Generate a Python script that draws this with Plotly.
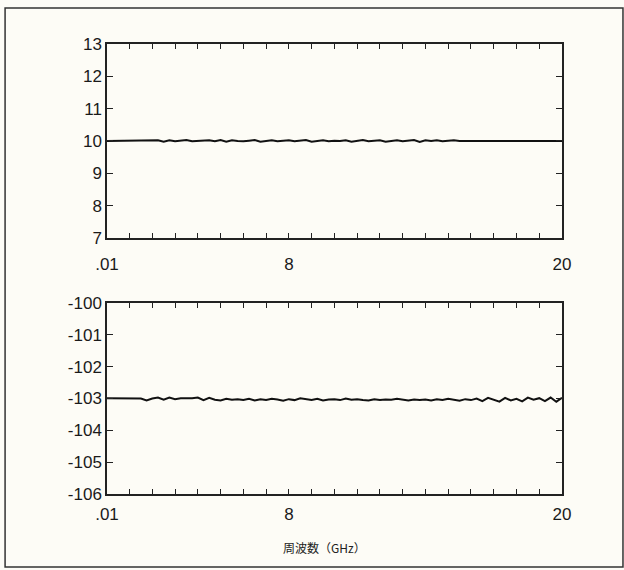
import plotly.graph_objects as go

freq_ghz = [0.01, 0.25, 0.5, 0.75, 1.0, 1.25, 1.5, 1.75, 2.0, 2.25, 2.5, 2.75, 3.0, 3.25, 3.5, 3.75,
            4.0, 4.25, 4.5, 4.75, 5.0, 5.25, 5.5, 5.75, 6.0, 6.25, 6.5, 6.75, 7.0, 7.25, 7.5, 7.75,
            8.0, 8.25, 8.5, 8.75, 9.0, 9.25, 9.5, 9.75, 10.0, 10.25, 10.5, 10.75, 11.0, 11.25, 11.5, 11.75,
            12.0, 12.25, 12.5, 12.75, 13.0, 13.25, 13.5, 13.75, 14.0, 14.25, 14.5, 14.75, 15.0, 15.25, 15.5, 15.75,
            16.0, 16.25, 16.5, 16.75, 17.0, 17.25, 17.5, 17.75, 18.0, 18.25, 18.5, 18.75, 19.0, 19.25, 19.5, 19.75, 20.0]

top_values = [10.0, 10.0, 10.0, 10.0, 10.0, 10.0, 10.0, 10.0, 10.0, 10.02, 9.98, 10.02, 9.99, 10.01, 10.03, 9.99,
              10.0, 10.0, 10.02, 9.99, 10.03, 9.98, 10.02, 10.0, 9.99, 10.01, 10.03, 9.98, 10.01, 10.02, 9.99, 10.0,
              10.02, 9.99, 10.01, 10.03, 9.98, 10.0, 10.02, 9.99, 10.01, 10.0, 10.02, 9.98, 10.01, 10.03, 9.99, 10.0,
              10.02, 9.98, 10.01, 10.02, 9.99, 10.0, 10.03, 9.97, 10.02, 10.0, 10.02, 9.99, 10.01, 10.02, 10.0, 10.0,
              10.0, 10.0, 10.0, 10.0, 10.0, 10.0, 10.0, 10.0, 10.0, 10.01, 10.0, 10.0, 10.01, 10.0, 10.0, 10.0, 10.0]

bottom_values = [-102.99, -102.99, -102.99, -102.99, -103.0, -103.0, -103.0, -103.06, -103.0, -102.97, -103.04,
                 -102.97, -103.02, -102.99, -103.0, -102.99, -102.97, -103.05, -102.98, -103.04, -103.06, -103.01,
                 -103.04, -103.02, -103.05, -103.01, -103.06, -103.02, -103.05, -103.01, -103.03, -103.07, -103.02,
                 -103.05, -102.99, -103.03, -103.05, -103.01, -103.06, -103.03, -103.02, -103.05, -103.0, -103.04,
                 -103.02, -103.05, -103.06, -103.02, -103.05, -103.03, -103.04, -103.01, -103.04, -103.06, -103.03,
                 -103.05, -103.03, -103.06, -103.02, -103.05, -103.01, -103.04, -103.07, -103.02, -103.05, -103.0,
                 -103.08, -102.98, -103.04, -103.1, -102.98, -103.06, -103.01, -103.09, -102.97, -103.04, -102.99,
                 -103.08, -102.97, -103.1, -102.98]

x_tickvals = [0.01] + list(range(1, 21))
x_ticktext = [".01" if v == 0.01 else ("8" if v == 8 else ("20" if v == 20 else "")) for v in x_tickvals]
top_y_ticks = [7, 8, 9, 10, 11, 12, 13]
bottom_y_ticks = [-106, -105, -104, -103, -102, -101, -100]
bottom_y_text = ["-106", "-105", "-104", "-103", "-102", "-101", "-100"]
x_title = "周波数（GHz）"

FONT = "Liberation Sans, Arial, sans-serif"

fig = go.Figure()
fig.add_trace(go.Scatter(x=freq_ghz, y=top_values, mode="lines",
                         line=dict(color="#111111", width=2), xaxis="x", yaxis="y", showlegend=False))
fig.add_trace(go.Scatter(x=freq_ghz, y=bottom_values, mode="lines",
                         line=dict(color="#111111", width=2), xaxis="x2", yaxis="y2", showlegend=False))

common_x = dict(range=[0.01, 20], tickmode="array", tickvals=x_tickvals, ticktext=x_ticktext,
                ticks="inside", ticklen=5, tickwidth=1.2, tickcolor="#222",
                showline=True, linecolor="#222", linewidth=1.5, mirror="ticks",
                showgrid=False, zeroline=False,
                tickfont=dict(family=FONT, size=17, color="#1a1a1a"))
common_y = dict(ticks="inside", ticklen=6, tickwidth=1.2, tickcolor="#222", tickmode="array",
                showline=True, linecolor="#222", linewidth=1.5, mirror="ticks",
                showgrid=False, zeroline=False, ticklabelstandoff=0,
                tickfont=dict(family=FONT, size=17, color="#1a1a1a"))

fig.update_layout(
    width=624, height=570,
    margin=dict(l=107, r=62, t=44, b=76),
    paper_bgcolor="#fdfcf6", plot_bgcolor="#fdfcf6",
    xaxis=dict(common_x, domain=[0, 1], anchor="y", ticklabelstandoff=10),
    yaxis=dict(common_y, domain=[0.569, 1.0], range=[7, 13], anchor="x",
               tickvals=top_y_ticks, ticktext=[str(v) for v in top_y_ticks]),
    xaxis2=dict(common_x, domain=[0, 1], anchor="y2", ticklabelstandoff=4),
    yaxis2=dict(common_y, domain=[0.0, 0.4244], range=[-106, -100], anchor="x2",
                tickvals=bottom_y_ticks, ticktext=bottom_y_text),
    shapes=[dict(type="rect", xref="paper", yref="paper", x0=-0.224, x1=1.134, y0=-0.162, y1=1.08,
                 line=dict(color="#333", width=1.5))],
    annotations=[dict(text=x_title, xref="paper", yref="paper", x=0.478, y=-0.118,
                      showarrow=False, xanchor="center", yanchor="middle",
                      font=dict(family="Noto Sans CJK JP, sans-serif", size=12, color="#222"))],
)

fig.write_html("out.html")
